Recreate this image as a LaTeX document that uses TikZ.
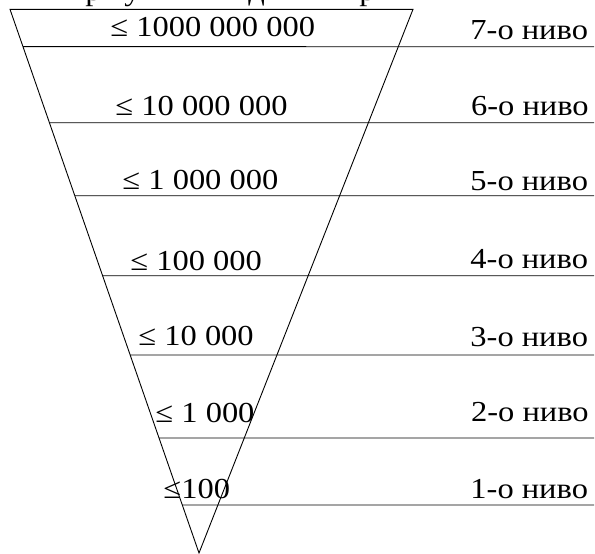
\documentclass[tikz,border=0pt]{standalone}
\usepackage{fontspec}
\setmainfont[FakeStretch=1.12]{Liberation Serif}
\usetikzlibrary{calc}
\begin{document}
\begin{tikzpicture}[x=1pt,y=-1pt,line width=0.9pt,
  txt/.style={anchor=base west,inner sep=0pt,font=\fontsize{29}{31}\selectfont},
  rule/.style={draw=black,line width=0.9pt}]
\useasboundingbox (0,0) rectangle (595,554);
% triangle corners
\coordinate (A) at (10,9.3);
\coordinate (B) at (413,9.3);
\coordinate (C) at (199,553);
\draw[rule,line join=miter] (A) -- (B) -- (C) -- cycle;
% level lines
\foreach \n/\y in {7/46.7,6/122.7,5/195.7,4/275.7,3/355,2/438,1/505}{
  \coordinate (l\n) at ($(A)!{(\y-9.3)/543.7}!(C)$);
  \coordinate (r\n) at (594,\y);
  \draw[rule] (l\n) -- (r\n);
}
% clipped title (only descenders visible)
\node[txt] (t1) at (85,0.3) {р};
\node[txt] (t2) at (124,0.3) {у};
\node[txt] (t3) at (248,0.3) {д};
\node[txt] (t4) at (359,0.3) {р};
% values
\node[txt] (v7) at (110,36.7) {≤ 1000 000 000};
\node[txt] (v6) at (115,115) {≤ 10 000 000};
\node[txt] (v5) at (122,189.5) {≤ 1 000 000};
\node[txt] (v4) at (130,270) {≤ 100 000};
\node[txt] (v3) at (138,345) {≤ 10 000};
\node[txt] (v2) at (155,422.7) {≤ 1 000};
\node[txt] (v1) at (163,498) {≤100};
% level names
\node[txt] (n7) at (470,39) {7-о\ ниво};
\node[txt] (n6) at (470.7,115) {6-о\ ниво};
\node[txt] (n5) at (470,190) {5-о\ ниво};
\node[txt] (n4) at (470,268) {4-о\ ниво};
\node[txt] (n3) at (470,346.7) {3-о\ ниво};
\node[txt] (n2) at (470.7,421.7) {2-о\ ниво};
\node[txt] (n1) at (470,498) {1-о\ ниво};
\end{tikzpicture}
\end{document}
